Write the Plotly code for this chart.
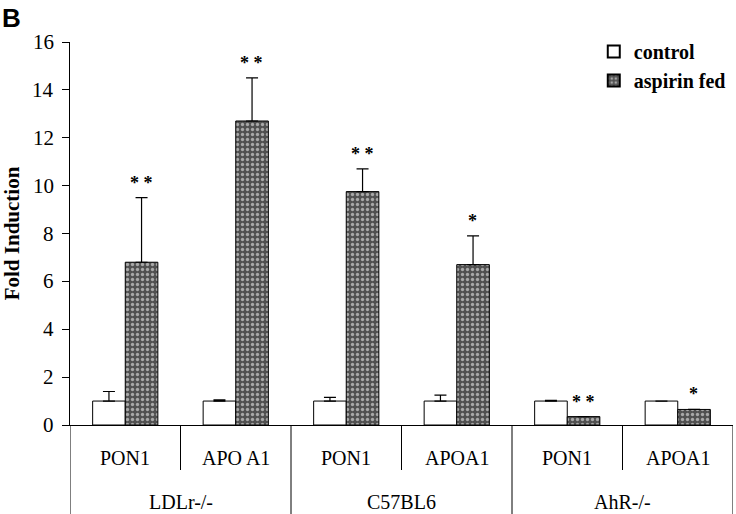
import plotly.graph_objects as go

# === data ===
genes = ["PON1", "APO A1", "PON1", "APOA1", "PON1", "APOA1"]
strains = ["LDLr-/-", "C57BL6", "AhR-/-"]
control = [1.0, 1.0, 1.0, 1.0, 1.0, 1.0]
control_err = [0.4, 0.05, 0.15, 0.25, 0.03, 0.0]
aspirin = [6.8, 12.7, 9.75, 6.7, 0.35, 0.65]
aspirin_err = [2.7, 1.8, 0.95, 1.2, 0.0, 0.0]
stars = ["* *", "* *", "* *", "*", "* *", "*"]
y_ticks = [0, 2, 4, 6, 8, 10, 12, 14, 16]

serif = "Liberation Serif"
x = list(range(len(genes)))

fig = go.Figure()
fig.add_trace(go.Bar(
    x=x, y=control, name="control",
    marker=dict(color="white", line=dict(color="black", width=1)),
    error_y=dict(type="data", array=control_err, arrayminus=[0] * len(x),
                 symmetric=False, color="black", thickness=1.2, width=6),
))
fig.add_trace(go.Bar(
    x=x, y=aspirin, name="aspirin fed",
    marker=dict(color="#505050", line=dict(color="black", width=1),
                pattern=dict(shape=".", fgcolor="white", bgcolor="#505050",
                             size=5, solidity=0.35)),
    error_y=dict(type="data", array=aspirin_err, arrayminus=[0] * len(x),
                 symmetric=False, color="black", thickness=1.2, width=6),
))

# significance stars above the aspirin bars
for i, s in enumerate(stars):
    fig.add_annotation(x=i + 0.145, y=aspirin[i] + aspirin_err[i], text="<b>" + s + "</b>",
                       showarrow=False, yanchor="bottom", yshift=3,
                       font=dict(family=serif, size=18, color="black"))

# y tick labels as serif text (tickfont family was not being picked up)
for v in y_ticks:
    fig.add_annotation(x=0, y=v, xref="paper", yref="y", text=str(v),
                       showarrow=False, xanchor="right", yanchor="middle", xshift=-14,
                       font=dict(family=serif, size=21, color="black"))

# table under the axis
sub_bottom = -45 / 383
tab_bottom = -89 / 383
for i in range(len(genes) + 1):
    edge = i - 0.5
    low = tab_bottom if i % 2 == 0 else sub_bottom
    fig.add_shape(type="line", xref="x", yref="paper", x0=edge, x1=edge,
                  y0=0, y1=low, line=dict(color="black", width=1))
for i, g in enumerate(genes):
    fig.add_annotation(x=i, y=-33 / 383, xref="x", yref="paper", text=g,
                       showarrow=False, yanchor="middle",
                       font=dict(family=serif, size=20, color="black"))
for k, s in enumerate(strains):
    fig.add_annotation(x=2 * k + 0.5, y=-77 / 383, xref="x", yref="paper", text=s,
                       showarrow=False, yanchor="middle",
                       font=dict(family=serif, size=20, color="black"))

fig.add_annotation(x=-70 / 663, y=1 + 24 / 383, xref="paper", yref="paper", text="<b>B</b>",
                   showarrow=False, xanchor="left", yanchor="middle",
                   font=dict(family="Liberation Sans", size=26, color="black"))

fig.update_layout(
    width=736, height=514,
    margin=dict(l=70, r=3, t=42, b=89),
    plot_bgcolor="white", paper_bgcolor="white",
    barmode="group", bargap=0.41, bargroupgap=0,
    font=dict(family=serif, color="black"),
    legend=dict(x=0.79, y=1.026, xanchor="left", yanchor="top",
                font=dict(family=serif, size=20, color="black", weight="bold"),
                bgcolor="rgba(0,0,0,0)", itemsizing="constant", tracegroupgap=9),
    xaxis=dict(range=[-0.5, 5.5], showticklabels=False, ticks="", showgrid=False,
               showline=True, linecolor="black", linewidth=1, zeroline=False),
    yaxis=dict(range=[0, 16], tickvals=y_ticks, showticklabels=False,
               ticks="outside", ticklen=7, tickcolor="black",
               showline=True, linecolor="black", linewidth=1, showgrid=False,
               zeroline=False,
               title=dict(text="<b>Fold Induction</b>", standoff=44,
                          font=dict(family=serif, size=21, color="black"))),
)

fig.write_html("out.html", config={"displayModeBar": False},
               post_script="document.body.style.margin='0';")
